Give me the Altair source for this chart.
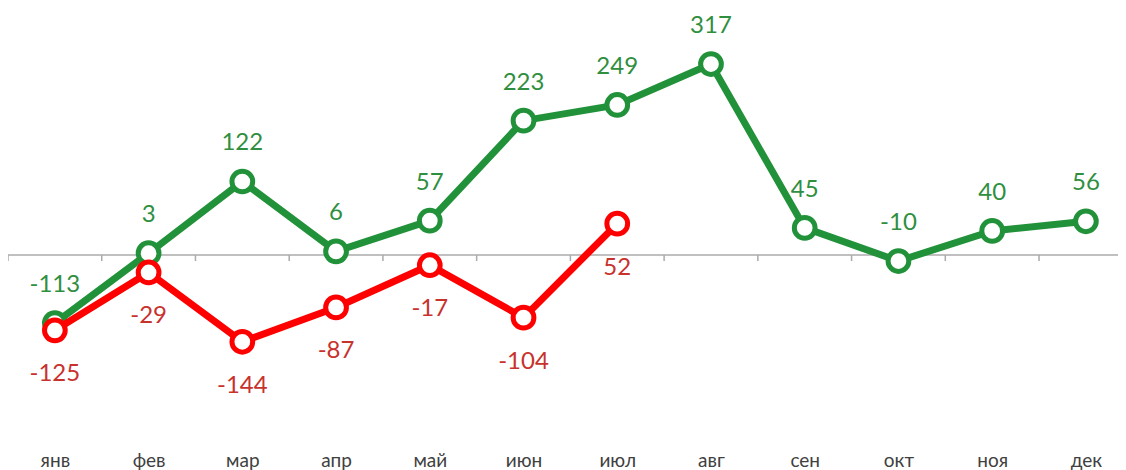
import json
import altair as alt
import pandas as pd

months = ["янв", "фев", "мар", "апр", "май", "июн", "июл", "авг", "сен", "окт", "ноя", "дек"]
green_vals = [-113, 3, 122, 6, 57, 223, 249, 317, 45, -10, 40, 56]
red_vals = [-125, -29, -144, -87, -17, -104, 52]

W, H = 1110, 462
PX = 0.6025          # pixels per unit
ZERO = 247           # pixel row of zero
BAND = 93.73
TICK = 6 / PX
ymax = ZERO / PX
ymin = -(H - ZERO) / PX

df_g = pd.DataFrame({"i": list(range(len(green_vals))), "v": green_vals,
                     "t": [str(v) for v in green_vals]})
df_r = pd.DataFrame({"i": list(range(len(red_vals))), "v": red_vals,
                     "t": [str(v) for v in red_vals]})
df_b = pd.DataFrame({"i": [k - 0.5 for k in range(len(months) + 1)],
                     "v": [0] * (len(months) + 1),
                     "v2": [-TICK] * (len(months) + 1)})
df_z = pd.DataFrame({"v": [0]})

FONT = "Lato"
G_LINE, G_TEXT = "#22923A", "#2F8F3F"
R_LINE, R_TEXT = "#FF0000", "#C8322D"

label_expr = json.dumps(months, ensure_ascii=False) + "[datum.value]"

xs = alt.Scale(domain=[-0.5, len(months) - 0.5], range=[0, BAND * len(months)],
               nice=False, zero=False)
ys = alt.Scale(domain=[ymin, ymax], nice=False, zero=False)

x_axis = alt.Axis(values=list(range(len(months))), labelExpr=label_expr, domain=False,
                  ticks=False, grid=False, labelFont=FONT, labelFontSize=19,
                  labelColor="#404040", labelPadding=4, offset=-8,
                  labelBaseline="alphabetic", title=None,
                  labelFlush=False, labelOverlap=False)

base_x = alt.X("i:Q", scale=xs, axis=x_axis)
base_y = alt.Y("v:Q", scale=ys, axis=None)

zero_rule = alt.Chart(df_z).mark_rule(color="#ABABAB", strokeWidth=1.5).encode(y=base_y)

tick_rules = alt.Chart(df_b).mark_rule(color="#ABABAB", strokeWidth=1.5).encode(
    x=base_x, y=base_y, y2="v2:Q")


def series(df, line_c, text_c, dy):
    line = alt.Chart(df).mark_line(color=line_c, strokeWidth=7).encode(x=base_x, y=base_y)
    pts = alt.Chart(df).mark_point(shape="circle", size=430, filled=True, fill="white",
                                   stroke=line_c, strokeWidth=5, opacity=1,
                                   fillOpacity=1).encode(x=base_x, y=base_y)
    txt = alt.Chart(df).mark_text(dy=dy, fontSize=24, font=FONT, color=text_c).encode(
        x=base_x, y=base_y, text="t:N")
    return [line, pts, txt]


layers = [zero_rule, tick_rules] + series(df_g, G_LINE, G_TEXT, -38) + series(df_r, R_LINE, R_TEXT, 44)

chart = alt.layer(*layers).properties(
    width=W, height=H, padding=0,
    autosize=alt.AutoSizeParams(type="none"),
).configure_view(stroke=None)

chart.save("out.html", embed_options={"renderer": "svg", "actions": False})
